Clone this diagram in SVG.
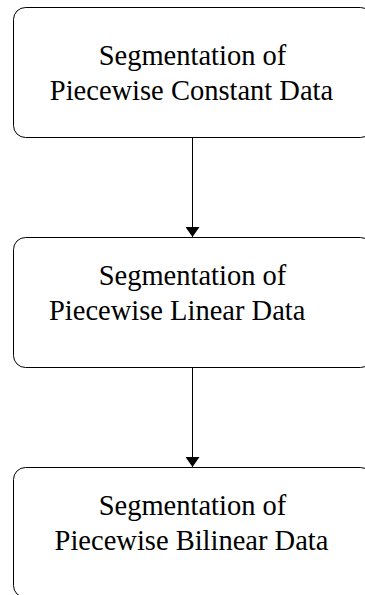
<svg xmlns="http://www.w3.org/2000/svg" width="365" height="595" viewBox="0 0 365 595">
<defs>
<style>
.box{fill:#fff;stroke:#000;stroke-width:1}
.t{font-size:28.5px;fill:#000}
.c{stroke:#000;stroke-width:1;fill:none}
</style>
<marker id="ah" viewBox="0 0 10 14" refX="10" refY="7" markerWidth="10" markerHeight="14" markerUnits="userSpaceOnUse" orient="auto">
<path d="M0,0 L10,7 L0,14 z" fill="#000"/>
</marker>
</defs>
<rect width="365" height="595" fill="#fff"/>
<g id="connectors">
<line class="c" x1="192.5" y1="137.5" x2="192.5" y2="237" marker-end="url(#ah)"/>
<line class="c" x1="192.5" y1="367.5" x2="192.5" y2="467" marker-end="url(#ah)"/>
</g>
<g font-family="'Liberation Serif', 'Times New Roman', Times, serif">
<g id="node1">
<rect class="box" x="13.5" y="7.5" width="359" height="130" rx="12"/>
<text class="t" x="192.5" y="65" text-anchor="middle">Segmentation of</text>
<text class="t" x="191.5" y="100" text-anchor="middle">Piecewise Constant Data</text>
</g>
<g id="node2">
<rect class="box" x="13.5" y="237.5" width="359" height="130" rx="12"/>
<text class="t" x="192.5" y="285" text-anchor="middle">Segmentation of</text>
<text class="t" x="49" y="320">Piecewise Linear Data</text>
</g>
<g id="node3">
<rect class="box" x="13.5" y="467.5" width="359" height="130" rx="12"/>
<text class="t" x="192.5" y="515" text-anchor="middle">Segmentation of</text>
<text class="t" x="191.5" y="550" text-anchor="middle">Piecewise Bilinear Data</text>
</g>
</g>
</svg>
